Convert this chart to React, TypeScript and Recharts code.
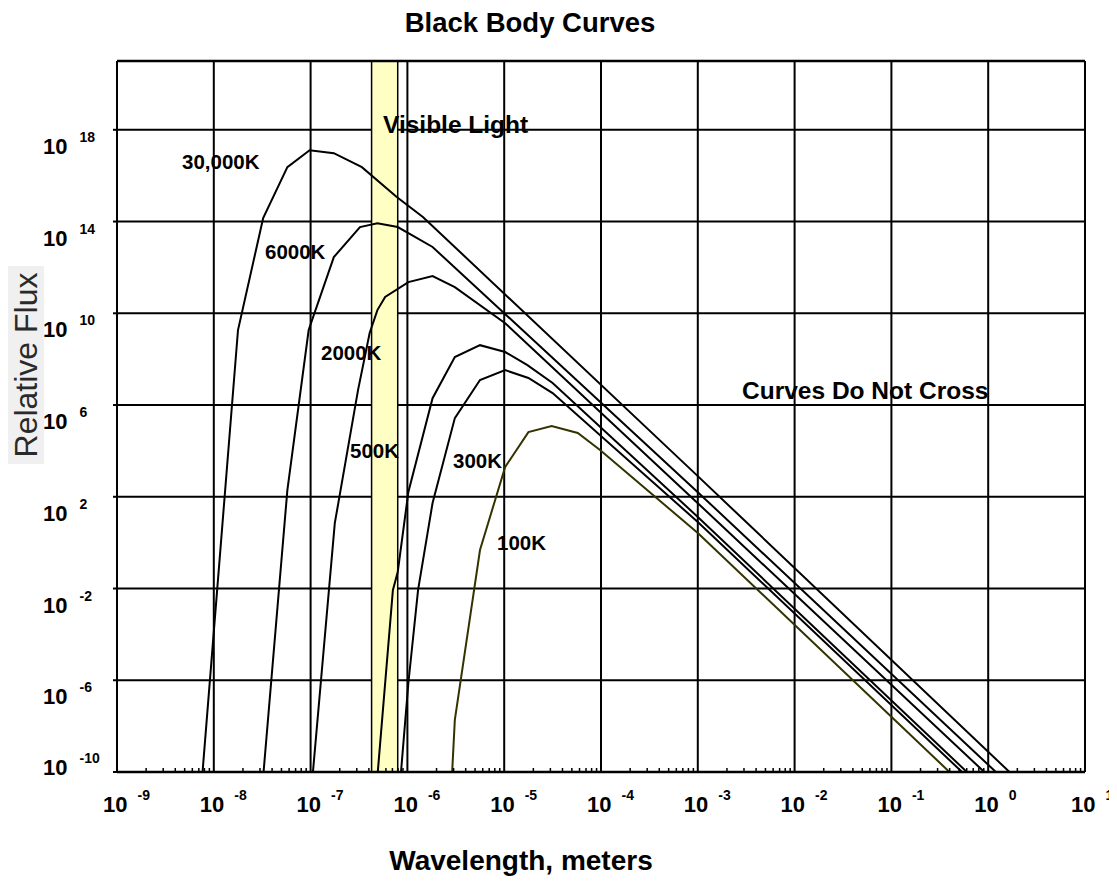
import { CartesianGrid, Line, LineChart, ReferenceArea, ReferenceLine, XAxis, YAxis } from 'recharts';

// Values are log10(wavelength, m) and log10(relative flux)
const k30000X = [-8.12, -7.75, -7.49, -7.24, -7.01, -6.76, -6.47, -6.11, -5.84, -3.0, 0.27];
const k30000Y = [-10.2, 9.27, 14.15, 16.37, 17.11, 16.98, 16.37, 15.07, 14.2, 2.9, -10.2];

const k6000X = [-7.49, -7.24, -7.02, -6.76, -6.49, -6.31, -6.1, -5.74, -3.0, 0.13];
const k6000Y = [-10.2, 2.29, 9.27, 12.45, 13.76, 13.93, 13.76, 12.89, 2.2, -10.2];

const k2000X = [-6.98, -6.75, -6.51, -6.39, -6.31, -6.23, -5.99, -5.74, -5.51, -4.99, -3.0, 0.01];
const k2000Y = [-10.2, 0.85, 6.65, 9.14, 10.14, 10.71, 11.36, 11.62, 11.14, 9.57, 1.72, -10.2];

const k500X = [-6.31, -6.15, -6.1, -5.99, -5.74, -5.51, -5.25, -4.99, -4.76, -4.5, -3.0, -0.17];
const k500Y = [-10.2, -2.07, -1.28, 2.21, 6.3, 8.09, 8.61, 8.31, 7.74, 6.96, 1.12, -10.2];

const k300X = [-6.07, -5.99, -5.89, -5.74, -5.51, -5.25, -4.99, -4.75, -4.5, -3.0, -0.22];
const k300Y = [-10.2, -6.12, -2.07, 1.73, 5.43, 7.09, 7.52, 7.18, 6.52, 0.9, -10.2];

const k100X = [-5.54, -5.51, -5.25, -4.99, -4.75, -4.51, -4.24, -4.01, -3.0, -0.35];
const k100Y = [-10.2, -7.73, -0.32, 3.3, 4.82, 5.08, 4.78, 4.04, 0.42, -10.2];

// visible band, log10(m)
const visibleFrom = -6.37;
const visibleTo = -6.1;

const xDecades = [-9, -8, -7, -6, -5, -4, -3, -2, -1, 0, 1];
const yDecades = [-10, -6, -2, 2, 6, 10, 14, 18];

const FONT = '"Liberation Sans", Arial, Helvetica, sans-serif';

const toPoints = (xs: number[], ys: number[]) => xs.map((x, i) => ({ x, y: ys[i] }));

const series = [
  { name: '30,000K', data: toPoints(k30000X, k30000Y), color: '#000' },
  { name: '6000K', data: toPoints(k6000X, k6000Y), color: '#000' },
  { name: '2000K', data: toPoints(k2000X, k2000Y), color: '#000' },
  { name: '500K', data: toPoints(k500X, k500Y), color: '#000' },
  { name: '300K', data: toPoints(k300X, k300Y), color: '#000' },
  { name: '100K', data: toPoints(k100X, k100Y), color: '#333300' },
];

// minor log ticks between decades
const minorTicks: number[] = [];
for (let n = -9; n < 1; n++) {
  for (let k = 2; k <= 9; k++) minorTicks.push(n + Math.log10(k));
}
const xTicks = [...xDecades, ...minorTicks].sort((a, b) => a - b);

const isDecade = (v: number) => Math.abs(v - Math.round(v)) < 1e-6;

function XTick(props: any) {
  const { x, y, payload } = props;
  const v = payload.value;
  if (!isDecade(v)) {
    return <line x1={x} x2={x} y1={y} y2={y - 4} stroke='#000' strokeWidth={1.5} />;
  }
  return (
    <text x={x - 14} y={y + 40} fontFamily={FONT} fontWeight='bold' fontSize={22} fill='#000'>
      10
      <tspan dx={10} dy={-12} fontSize={14}>{Math.round(v)}</tspan>
    </text>
  );
}

function YTick(props: any) {
  const { x, y, payload } = props;
  const v = payload.value;
  const base = v === -10 ? y + 3 : y + 24;
  return (
    <g>
      <line x1={x - 4} x2={x} y1={y} y2={y} stroke='#000' strokeWidth={2} />
      <text x={x - 74} y={base} fontFamily={FONT} fontWeight='bold' fontSize={22} fill='#000'>
        10
        <tspan dx={12} dy={-12} fontSize={14}>{v}</tspan>
      </text>
    </g>
  );
}

export default function App() {
  const W = 1109;
  const H = 876;
  const labelStyle = { fontFamily: FONT, fontWeight: 'bold' as const, fill: '#000' };

  return (
    <div style={{ position: 'relative', width: W, height: H }}>
      <LineChart width={W} height={H} margin={{ top: 53, right: 32, bottom: 52, left: 0 }}>
        <CartesianGrid vertical={false} stroke='#000' strokeWidth={2} />
        <XAxis
          type='number'
          dataKey='x'
          domain={[-9, 1]}
          ticks={xTicks}
          interval={0}
          allowDataOverflow
          tickSize={0}
          tickMargin={0}
          tickLine={false}
          axisLine={{ stroke: '#000', strokeWidth: 2.5 }}
          tick={<XTick />}
          height={60}
        />
        <YAxis
          type='number'
          domain={[-10, 21]}
          ticks={yDecades}
          interval={0}
          allowDataOverflow
          tickSize={0}
          tickMargin={0}
          tickLine={false}
          axisLine={{ stroke: '#000', strokeWidth: 2 }}
          tick={<YTick />}
          width={109}
        />
        {xDecades.map(d => (
          <ReferenceLine key={d} x={d} stroke='#000' strokeWidth={2} />
        ))}
        <ReferenceLine y={21} stroke='#000' strokeWidth={2.5} />
        <ReferenceArea
          x1={visibleFrom}
          x2={visibleTo}
          y1={-10}
          y2={21}
          fill='#ffffc4'
          fillOpacity={1}
          stroke='#000'
          strokeWidth={1.5}
        />
        {series.map(s => (
          <Line
            key={s.name}
            data={s.data}
            dataKey='y'
            type='linear'
            stroke={s.color}
            strokeWidth={2}
            dot={false}
            activeDot={false}
            isAnimationActive={false}
          />
        ))}
      </LineChart>

      <svg width={W} height={H} style={{ position: 'absolute', left: 0, top: 0, pointerEvents: 'none' }}>
        <text x={522} y={24} textAnchor='middle' fontSize={27.5} {...labelStyle}>Black Body Curves</text>
        <text x={513} y={862} textAnchor='middle' fontSize={28} {...labelStyle}>Wavelength, meters</text>
        <rect x={0} y={258} width={36} height={198} fill='#f0f0f0' />
        <text
          transform='translate(29,357) rotate(-90)'
          textAnchor='middle'
          fontFamily={FONT}
          fontSize={32}
          fill='#2a2a2a'
        >
          Relative Flux
        </text>
        <text x={375} y={125} fontSize={24.5} {...labelStyle}>Visible Light</text>
        <text x={734} y={391} fontSize={24.5} {...labelStyle}>Curves Do Not Cross</text>
        <text x={174} y={161} fontSize={20.5} {...labelStyle}>30,000K</text>
        <text x={257} y={251} fontSize={20.5} {...labelStyle}>6000K</text>
        <text x={313} y={352} fontSize={20.5} {...labelStyle}>2000K</text>
        <text x={342} y={450} fontSize={20.5} {...labelStyle}>500K</text>
        <text x={445} y={460} fontSize={20.5} {...labelStyle}>300K</text>
        <text x={489} y={542} fontSize={20.5} {...labelStyle}>100K</text>
      </svg>
    </div>
  );
}
